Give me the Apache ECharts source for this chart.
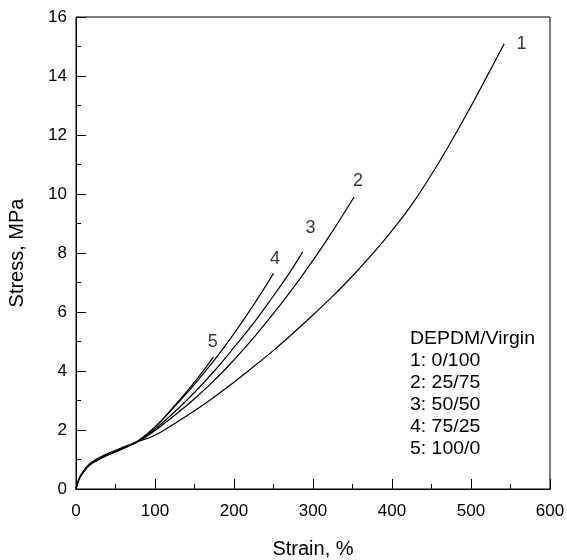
<!DOCTYPE html>
<html>
<head>
<meta charset="utf-8">
<script src="https://cdn.jsdelivr.net/npm/echarts@6/dist/echarts.min.js"></script>
<style>
  html, body { margin: 0; padding: 0; background: #fff; }
  #chart { width: 567px; height: 560px; }
</style>
</head>
<body>
<div id="chart"></div>
<script>
// stress-strain curves, [strain %, stress MPa]
const curve1 = [[0,0],[2,0.2],[5,0.42],[10,0.63],[15,0.8],[20,0.92],[25,1.0],[40,1.2],[60,1.42],[80,1.62],[100,1.82],[125,2.22],[150,2.65],[175,3.12],[200,3.62],[225,4.15],[250,4.7],[275,5.29],[300,5.9],[325,6.54],[350,7.22],[375,7.96],[400,8.76],[425,9.64],[450,10.66],[475,11.78],[500,12.98],[521,14.03],[542,15.09]];
const curve2 = [[0,0],[2,0.2],[5,0.4],[10,0.6],[15,0.76],[20,0.87],[25,0.95],[40,1.15],[60,1.38],[80,1.63],[100,1.98],[125,2.5],[150,3.06],[175,3.68],[200,4.38],[225,5.13],[250,5.95],[275,6.82],[300,7.75],[325,8.75],[352,9.9]];
const curve3 = [[0,0],[2,0.2],[5,0.4],[10,0.6],[15,0.76],[20,0.87],[25,0.95],[40,1.15],[60,1.38],[80,1.64],[100,2.03],[125,2.62],[150,3.27],[175,4.0],[200,4.8],[225,5.63],[250,6.55],[270,7.32],[287,8.04]];
const curve4 = [[0,0],[2,0.2],[5,0.4],[10,0.6],[15,0.76],[20,0.87],[25,0.95],[40,1.15],[60,1.38],[80,1.65],[100,2.1],[125,2.8],[150,3.55],[175,4.37],[200,5.27],[225,6.25],[250,7.31]];
const curve5 = [[0,0],[2,0.2],[5,0.4],[10,0.6],[15,0.76],[20,0.87],[25,0.95],[40,1.15],[60,1.38],[80,1.66],[100,2.1],[125,2.83],[150,3.62],[174,4.48]];

// curve number labels, [strain, stress, text]
const curveLabels = [[564,15.1,'1'],[357,10.45,'2'],[297,8.85,'3'],[252,7.8,'4'],[173,4.98,'5']];

const legendLines = ['DEPDM/Virgin','1: 0/100','2: 25/75','3: 50/50','4: 75/25','5: 100/0'];

const xTicks = [0, 100, 200, 300, 400, 500, 600];
const yTicks = [0, 2, 4, 6, 8, 10, 12, 14, 16];

const font = 'Liberation Sans, Arial, sans-serif';
const chart = echarts.init(document.getElementById('chart'));

const lineSeries = [curve1, curve2, curve3, curve4, curve5].map((d, i) => ({
  name: 'curve' + (i + 1),
  type: 'line',
  data: d,
  showSymbol: false,
  smooth: 0.4,
  lineStyle: { color: '#000', width: 1.2 },
  silent: true,
}));

chart.setOption({
  animation: false,
  backgroundColor: '#fff',
  grid: {
    left: 76, right: 17, top: 17, bottom: 71,
    outerBoundsMode: 'none',
    show: true, borderColor: '#000', borderWidth: 1,
  },
  xAxis: {
    type: 'value',
    min: xTicks[0], max: xTicks[xTicks.length - 1], interval: 100,
    name: 'Strain, %',
    nameLocation: 'middle', nameGap: 50,
    nameTextStyle: { fontSize: 20, color: '#000', fontFamily: font },
    axisLine: { lineStyle: { color: '#000', width: 1 } },
    axisTick: { inside: true, length: 10, lineStyle: { color: '#000' } },
    minorTick: { show: true, splitNumber: 2, length: 5, lineStyle: { color: '#000' } },
    axisLabel: { fontSize: 17, color: '#000', fontFamily: font, margin: 14 },
    splitLine: { show: false },
  },
  yAxis: {
    type: 'value',
    min: yTicks[0], max: yTicks[yTicks.length - 1], interval: 2,
    name: 'Stress, MPa',
    nameLocation: 'middle', nameGap: 49,
    nameTextStyle: { fontSize: 20, color: '#000', fontFamily: font },
    axisLine: { lineStyle: { color: '#000', width: 1 } },
    axisTick: { inside: true, length: 10, lineStyle: { color: '#000' } },
    minorTick: { show: true, splitNumber: 2, length: 5, lineStyle: { color: '#000' } },
    axisLabel: { fontSize: 17, color: '#000', fontFamily: font, margin: 9 },
    splitLine: { show: false },
  },
  series: [
    ...lineSeries,
    {
      name: 'labels',
      type: 'scatter',
      data: curveLabels,
      symbolSize: 0,
      silent: true,
      label: {
        show: true, position: 'inside',
        formatter: (p) => p.value[2],
        fontSize: 18, color: '#000', fontFamily: font,
      },
    },
  ],
  graphic: legendLines.map((t, i) => ({
    type: 'text',
    x: 410,
    y: 330 + i * 22,
    scaleX: 1.08,
    style: { text: t, fontSize: 18, fill: '#000', fontFamily: font, textVerticalAlign: 'top' },
  })),
});
</script>
</body>
</html>
